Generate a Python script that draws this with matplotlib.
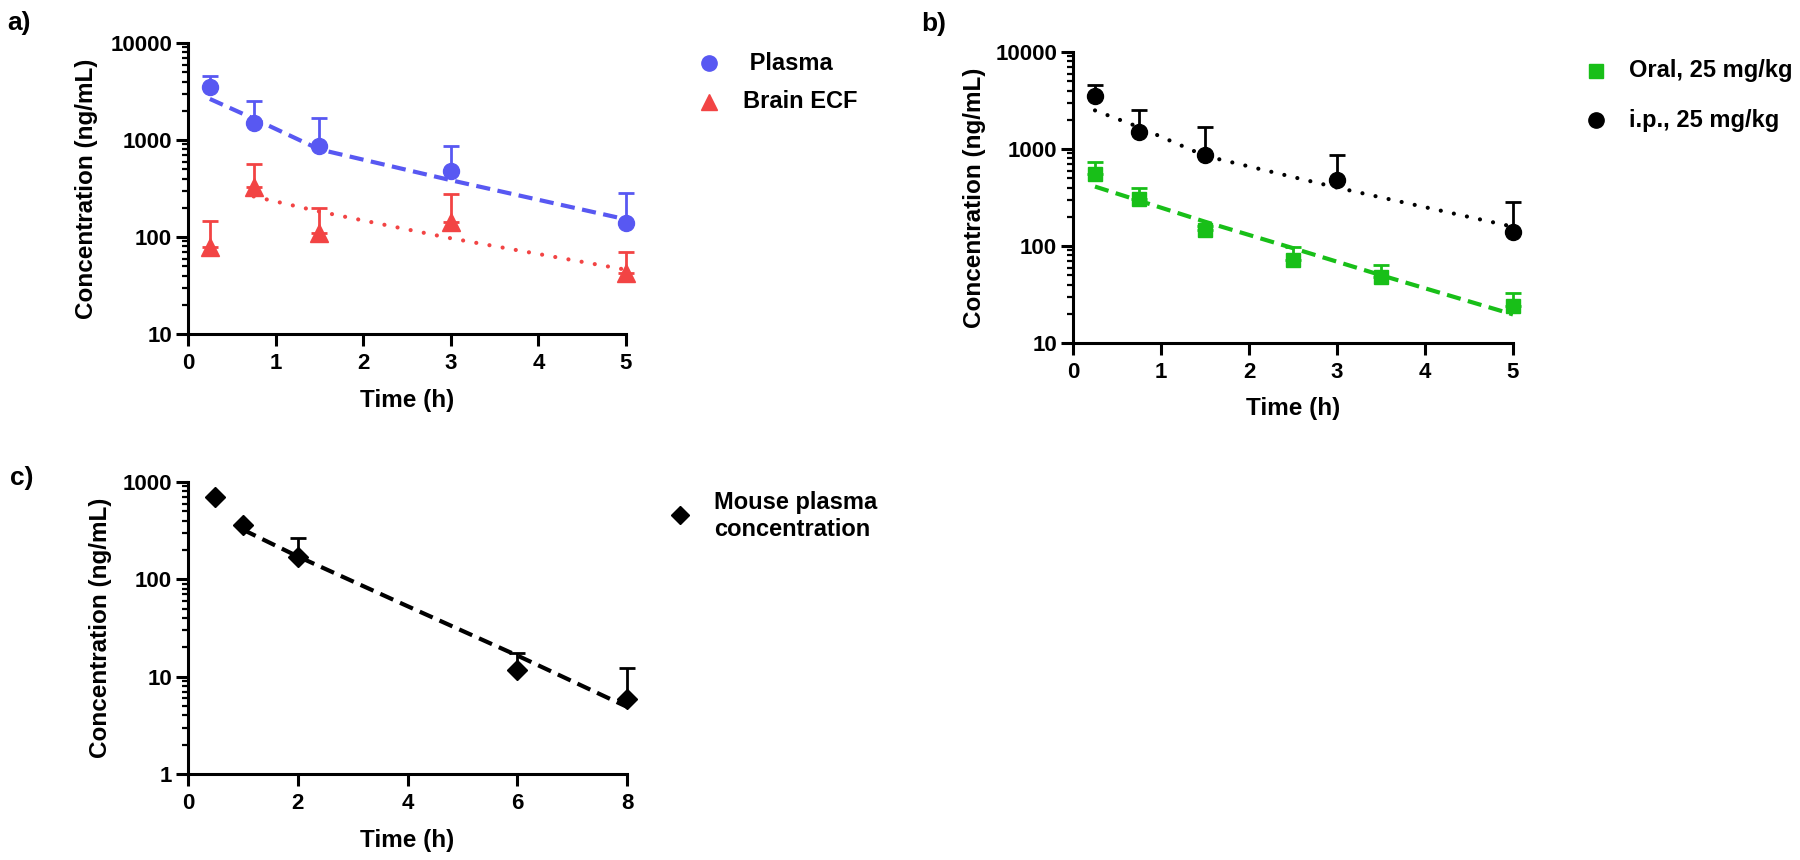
import numpy as np
import matplotlib
matplotlib.use("Agg")
import matplotlib.pyplot as plt
from matplotlib.lines import Line2D
from matplotlib.ticker import FuncFormatter, LogLocator, NullFormatter

# ---------------- data ----------------
# Panel a
a_time = [0.25, 0.75, 1.5, 3, 5]
a_plasma = [3500, 1500, 860, 475, 141]
a_plasma_upper = [4540, 2500, 1690, 870, 286]
a_brain = [78, 330, 110, 144, 43]
a_brain_upper = [145, 560, 200, 278, 70]
a_plasma_fit_t = [0.25, 0.75, 1.5, 3, 5]
a_plasma_fit = [2650, 1660, 800, 385, 152]
a_brain_fit_t = [0.75, 1.5, 3, 5]
a_brain_fit = [262, 183, 97, 46]
a_labels = [" Plasma", "Brain ECF"]

# Panel b
b_ip_time = [0.25, 0.75, 1.5, 3, 5]
b_ip = [3480, 1500, 860, 476, 141]
b_ip_upper = [4540, 2500, 1680, 867, 285]
b_oral_time = [0.25, 0.75, 1.5, 2.5, 3.5, 5]
b_oral = [550, 305, 146, 71, 48, 24]
b_oral_upper = [735, 394, 160, 97, 63, 33]
b_ip_fit_t = [0.25, 0.75, 1.5, 3, 5]
b_ip_fit = [2500, 1680, 850, 400, 158]
b_oral_fit_t = [0.25, 1.5, 2.5, 3.5, 5]
b_oral_fit = [410, 178, 95, 50, 19.7]
b_labels = ["Oral, 25 mg/kg", "i.p., 25 mg/kg"]

# Panel c
c_time = [0.5, 1, 2, 6, 8]
c_mouse = [700, 360, 168, 11.8, 5.9]
c_mouse_upper = [np.nan, np.nan, 267, 17.7, 12.4]
c_fit_t = [1, 2, 4, 6, 8]
c_fit = [324, 172, 53, 16.5, 4.9]
c_label = "Mouse plasma\nconcentration"

# ---------------- style ----------------
plt.rcParams["font.family"] = ["Liberation Sans", "DejaVu Sans"]
plt.rcParams["font.weight"] = "bold"
plt.rcParams["axes.labelweight"] = "bold"

BLUE = "#5858f2"
RED = "#f24444"
GREEN = "#18bf18"
BLACK = "#000000"

W, H = 1800, 860
fig = plt.figure(figsize=(18, 8.6), dpi=100)


def axes_px(l, r, t, b):
    return fig.add_axes([l / W, 1 - b / H, (r - l) / W, (b - t) / H])


def style(ax, ylim, xlim, xticks):
    ax.set_yscale("log")
    ax.set_ylim(ylim)
    ax.set_xlim(xlim)
    ax.set_xticks(xticks)
    ax.xaxis.set_major_formatter(FuncFormatter(lambda v, p: f"{v:g}"))
    ax.yaxis.set_major_locator(LogLocator(base=10, numticks=10))
    ax.yaxis.set_minor_locator(LogLocator(base=10, subs=np.arange(2, 10), numticks=10))
    ax.yaxis.set_minor_formatter(NullFormatter())
    ax.yaxis.set_major_formatter(FuncFormatter(lambda v, p: f"{int(round(v))}"))
    for s in ["top", "right"]:
        ax.spines[s].set_visible(False)
    for s in ["left", "bottom"]:
        ax.spines[s].set_linewidth(2.2)
    ax.tick_params(which="major", length=8.5, width=2.2, labelsize=16)
    ax.tick_params(axis="x", which="major", pad=5)
    ax.tick_params(axis="y", which="major", pad=3)
    ax.tick_params(axis="y", which="minor", length=4.5, width=1.6)
    ax.tick_params(axis="x", which="minor", length=0)
    ax.set_xlabel("Time (h)", fontsize=17.5, fontweight="bold", va="center")
    ax.set_ylabel("Concentration (ng/mL)", fontsize=17.5, fontweight="bold", va="center")
    h = ax.get_position().height * H
    w = ax.get_position().width * W
    ax.xaxis.set_label_coords(0.5, -66 / h)
    return w


def upper_err(ax, t, m, up, color, marker, ms, z=3):
    t = np.asarray(t, float)
    m = np.asarray(m, float)
    up = np.asarray(up, float)
    ok = ~np.isnan(up)
    ax.errorbar(t[ok], m[ok], yerr=[np.zeros(ok.sum()), up[ok] - m[ok]], fmt="none",
                ecolor=color, elinewidth=2.0, capsize=6, capthick=2.0, clip_on=False, zorder=2)
    ax.plot(t, m, linestyle="none", marker=marker, ms=ms, color=color, mec=color,
            clip_on=False, zorder=z)


def dashed(ax, t, v, color):
    ax.plot(t, v, color=color, lw=3.0, dashes=(3.4, 1.8), clip_on=False, zorder=4)


def dotted(ax, t, v, color):
    ax.plot(t, v, color=color, lw=3.0, dashes=(0.01, 3.2), dash_capstyle="round",
            clip_on=False, zorder=4)


def fig_marker(x, y, **kw):
    fig.add_artist(Line2D([x / W], [1 - y / H], transform=fig.transFigure,
                          linestyle="none", **kw))


def fig_text(x, y, s, size=17, **kw):
    fig.text(x / W, 1 - y / H, s, fontsize=size, fontweight="bold", **kw)


# ---------------- panel a ----------------
ax_a = axes_px(188, 626, 43, 334)
w = style(ax_a, (10, 10000), (0, 5), [0, 1, 2, 3, 4, 5])
ax_a.yaxis.set_label_coords(-101 / w, 0.5)
upper_err(ax_a, a_time, a_plasma, a_plasma_upper, BLUE, "o", 11.5)
upper_err(ax_a, a_time, a_brain, a_brain_upper, RED, "^", 12.5)
dashed(ax_a, a_plasma_fit_t, a_plasma_fit, BLUE)
dotted(ax_a, a_brain_fit_t, a_brain_fit, RED)

fig_marker(709, 63, marker="o", ms=11, color=BLUE)
fig_marker(709, 102, marker="^", ms=12, color=RED)
fig_text(743, 63, a_labels[0], ha="left", va="center")
fig_text(743, 102, a_labels[1], ha="left", va="center")

# ---------------- panel b ----------------
ax_b = axes_px(1073, 1513, 52, 343)
w = style(ax_b, (10, 10000), (0, 5), [0, 1, 2, 3, 4, 5])
ax_b.yaxis.set_label_coords(-99 / w, 0.5)
upper_err(ax_b, b_oral_time, b_oral, b_oral_upper, GREEN, "s", 10.5)
upper_err(ax_b, b_ip_time, b_ip, b_ip_upper, BLACK, "o", 11.5)
dashed(ax_b, b_oral_fit_t, b_oral_fit, GREEN)
dotted(ax_b, b_ip_fit_t, b_ip_fit, BLACK)

fig_marker(1596, 71, marker="s", ms=10.5, color=GREEN)
fig_marker(1596, 120, marker="o", ms=11, color=BLACK)
fig_text(1629, 71, b_labels[0], ha="left", va="center")
fig_text(1629, 120, b_labels[1], ha="left", va="center")

# ---------------- panel c ----------------
ax_c = axes_px(188, 627, 482, 774)
w = style(ax_c, (1, 1000), (0, 8), [0, 2, 4, 6, 8])
ax_c.yaxis.set_label_coords(-88 / w, 0.5)
upper_err(ax_c, c_time, c_mouse, c_mouse_upper, BLACK, "D", 10)
dashed(ax_c, c_fit_t, c_fit, BLACK)

fig_marker(680, 515, marker="D", ms=9.5, color=BLACK)
fig_text(714, 516, c_label, ha="left", va="center", linespacing=1.2)

# ---------------- panel letters ----------------
fig_text(19, 23, "a)", size=19, ha="center", va="center")
fig_text(934, 24, "b)", size=19, ha="center", va="center")
fig_text(22, 478, "c)", size=19, ha="center", va="center")

fig.savefig("out.png", dpi=100, facecolor="white")
